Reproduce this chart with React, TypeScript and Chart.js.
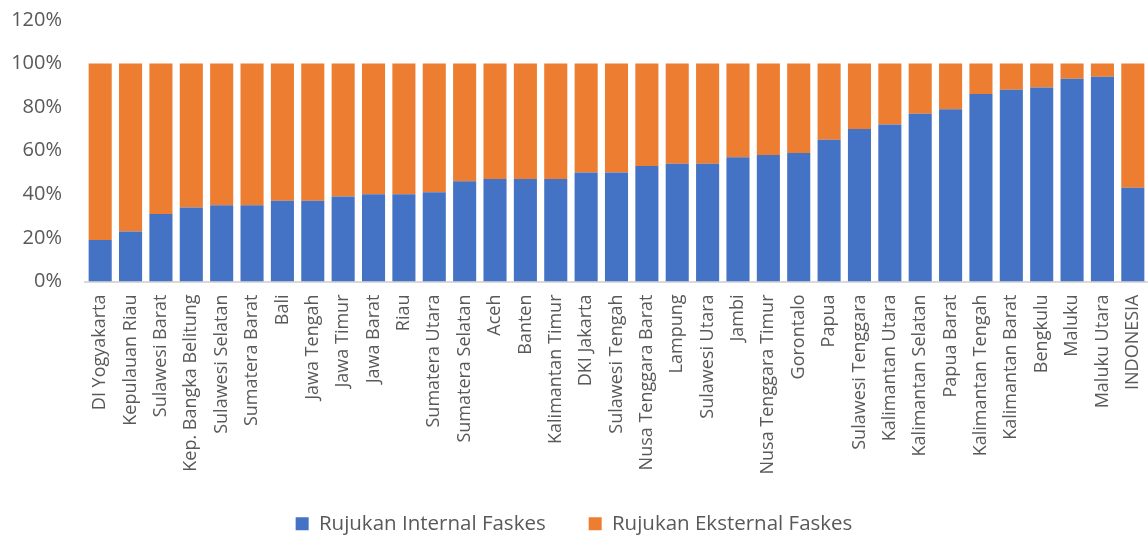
import React, { useEffect, useRef } from "react";
import { Chart, registerables } from "chart.js";

Chart.register(...registerables);

const categories: string[] = [
  "DI Yogyakarta", "Kepulauan Riau", "Sulawesi Barat", "Kep. Bangka Belitung", "Sulawesi Selatan",
  "Sumatera Barat", "Bali", "Jawa Tengah", "Jawa Timur", "Jawa Barat", "Riau", "Sumatera Utara",
  "Sumatera Selatan", "Aceh", "Banten", "Kalimantan Timur", "DKI Jakarta", "Sulawesi Tengah",
  "Nusa Tenggara Barat", "Lampung", "Sulawesi Utara", "Jambi", "Nusa Tenggara Timur", "Gorontalo",
  "Papua", "Sulawesi Tenggara", "Kalimantan Utara", "Kalimantan Selatan", "Papua Barat",
  "Kalimantan Tengah", "Kalimantan Barat", "Bengkulu", "Maluku", "Maluku Utara", "INDONESIA",
];

const internalValues: number[] = [
  19, 23, 31, 34, 35, 35, 37, 37, 39, 40, 40, 41, 46, 47, 47, 47, 50, 50,
  53, 54, 54, 57, 58, 59, 65, 70, 72, 77, 79, 86, 88, 89, 93, 94, 43,
];

const externalValues: number[] = [
  81, 77, 69, 66, 65, 65, 63, 63, 61, 60, 60, 59, 54, 53, 53, 53, 50, 50,
  47, 46, 46, 43, 42, 41, 35, 30, 28, 23, 21, 14, 12, 11, 7, 6, 57,
];

const seriesNames: string[] = ["Rujukan Internal Faskes", "Rujukan Eksternal Faskes"];
const yTicks: number[] = [0, 20, 40, 60, 80, 100, 120];

export default function App() {
  const ref = useRef<HTMLCanvasElement | null>(null);

  useEffect(() => {
    if (!ref.current) return;
    Chart.defaults.font.family = "'Open Sans', 'DejaVu Sans', sans-serif";
    Chart.defaults.color = "#595959";
    const chart = new Chart(ref.current, {
      type: "bar",
      data: {
        labels: categories,
        datasets: [
          {
            label: seriesNames[0],
            data: internalValues,
            backgroundColor: "#4472C4",
            borderWidth: 0,
            categoryPercentage: 1,
            barPercentage: 0.76,
          },
          {
            label: seriesNames[1],
            data: externalValues,
            backgroundColor: "#ED7D31",
            borderWidth: 0,
            categoryPercentage: 1,
            barPercentage: 0.76,
          },
        ],
      },
      options: {
        animation: false,
        responsive: true,
        maintainAspectRatio: false,
        layout: { padding: { top: 20, right: 0, left: 0, bottom: -5 } },
        plugins: {
          tooltip: { enabled: false },
          legend: {
            position: "bottom",
            labels: {
              boxWidth: 13,
              boxHeight: 13,
              padding: 43,
              font: { size: 20.5 },
              color: "#595959",
            },
          },
        },
        scales: {
          x: {
            stacked: true,
            grid: { display: false, drawTicks: false },
            border: { display: true, color: "#D9D9D9", width: 2 },
            ticks: {
              minRotation: 90,
              maxRotation: 90,
              autoSkip: false,
              padding: 13,
              font: { size: 18 },
              color: "#595959",
            },
            afterFit: (scale: any) => {
              scale.height = 189;
              scale.paddingLeft = 0;
              scale.paddingRight = 0;
              scale._computeLabelArea = () => undefined;
            },
          },
          y: {
            stacked: true,
            min: 0,
            max: 120,
            afterBuildTicks: (scale: any) => {
              scale.ticks = yTicks.map((v) => ({ value: v }));
            },
            grid: { display: false, drawTicks: true, tickLength: 20 },
            border: { display: false },
            ticks: {
              padding: 3,
              font: { size: 20 },
              color: "#595959",
              callback: (v: any) => v + "%",
            },
            afterFit: (scale: any) => {
              scale.width = 85;
            },
          },
        },
      },
    });
    return () => chart.destroy();
  }, []);

  return (
    <div style={{ position: "fixed", left: 0, top: 0, width: 1148, height: 539, background: "#fff" }}>
      <canvas ref={ref} />
    </div>
  );
}
